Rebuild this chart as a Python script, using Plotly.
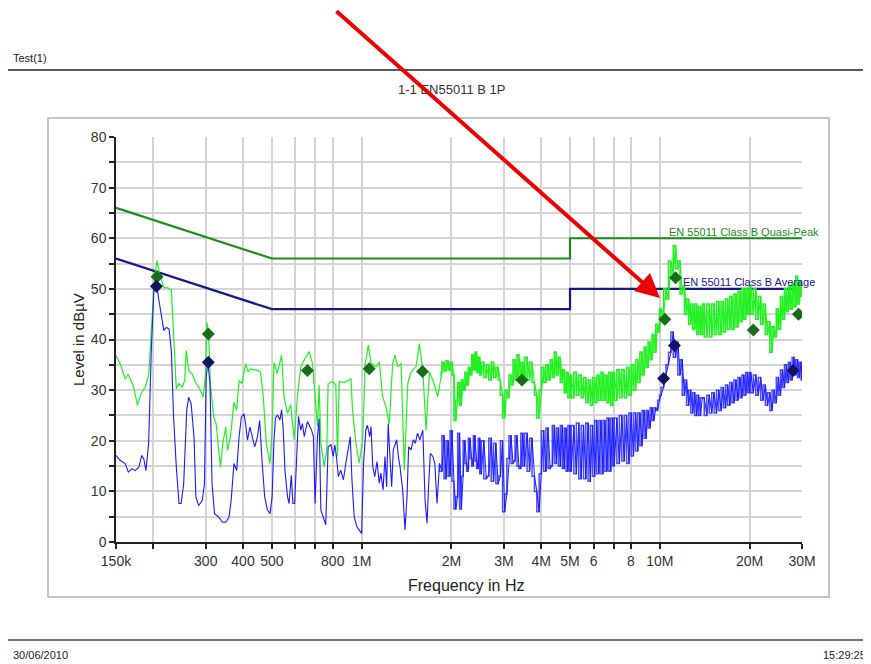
import plotly.graph_objects as go

# ---------------- data ----------------
# Quasi-peak pre-scan, structured part (frequency in kHz, level in dBuV)
QP_LOW_KHZ = [150, 155, 161, 165, 172, 177, 182, 188, 193, 198, 202, 206, 210, 217, 224, 230, 234, 239, 244, 250,
              255, 258, 263, 270, 277, 286, 294, 299, 303, 307, 311, 319, 325, 332, 336, 342, 350, 355, 363, 373,
              381, 388, 397, 408, 416, 424, 447, 458, 468, 479, 493, 501, 508, 521, 539, 549, 564, 578, 594, 609,
              625, 650, 667, 684, 698, 711, 720, 730, 749, 764, 772, 799, 819, 830, 841, 874, 909, 921, 932, 957,
              982, 1008, 1028, 1053, 1075, 1117, 1146, 1176, 1207, 1238, 1271, 1294, 1321, 1356, 1391, 1428, 1465,
              1522, 1562, 1604, 1645, 1688, 1733, 1801, 1848]
QP_LOW_DB = [36.8, 35.2, 32.2, 33.1, 30.6, 27.0, 29.3, 30.6, 32.9, 44.4, 52.3, 55.6, 53.0, 50.3, 50.2, 49.8, 41.1, 30.3, 31.3, 30.6,
             31.9, 37.8, 33.9, 33.2, 31.6, 30.3, 28.6, 32.6, 43.4, 40.5, 31.3, 24.7, 23.4, 18.1, 14.8, 19.4, 22.7, 18.1, 20.7, 27.6,
             26.0, 31.9, 31.3, 35.2, 33.6, 34.2, 33.9, 33.6, 28.6, 19.4, 15.5, 22.0, 35.4, 33.3, 36.9, 28.7, 25.4, 27.1, 20.2, 28.7,
             34.6, 36.6, 37.6, 35.3, 28.7, 22.8, 31.0, 19.5, 14.9, 18.2, 31.3, 31.7, 31.0, 16.9, 31.7, 31.5, 32.0, 32.3, 26.1, 19.5,
             15.6, 20.2, 35.3, 38.9, 35.3, 34.6, 35.6, 28.7, 26.7, 23.4, 35.3, 36.9, 34.6, 35.3, 14.2, 31.3, 33.6,
             34.6, 39.2, 34.0, 22.1, 33.6, 32.0, 28.7, 32.7]

# Average pre-scan, structured part
AV_LOW_KHZ = [150, 155, 161, 165, 170, 174, 179, 183, 186, 189, 193, 197, 201, 205, 209, 213, 217, 221, 226, 230,
              234, 239, 244, 248, 253, 259, 263, 268, 274, 278, 284, 292, 297, 301, 305, 310, 315, 321, 332, 341,
              350, 359, 365, 373, 381, 388, 395, 403, 408, 414, 422, 430, 438, 447, 455, 464, 473, 483, 493, 501,
              508, 514, 522, 532, 539, 546, 553, 564, 571, 581, 588, 596, 606, 614, 625, 633, 642, 658, 667, 679,
              689, 698, 711, 720, 730, 743, 758, 772, 789, 803, 813, 823, 836, 851, 869, 885, 902, 916, 928, 944,
              964, 982, 1000, 1015, 1033, 1046, 1064, 1075, 1090, 1107, 1126, 1146, 1160, 1180, 1198, 1213, 1228,
              1244, 1261, 1277, 1294, 1311, 1328, 1345, 1373, 1398, 1420, 1438, 1465, 1490, 1514, 1540, 1568, 1604,
              1632, 1658, 1675, 1700, 1733, 1760, 1790, 1825]
AV_LOW_DB = [17.1, 16.1, 15.5, 13.8, 14.5, 14.1, 14.8, 17.1, 16.4, 14.1, 19.4, 37.8, 49.7, 51.0, 47.7, 44.4, 41.8, 42.4, 42.1, 37.8,
             24.7, 14.8, 7.6, 7.6, 11.5, 26.0, 28.6, 27.3, 20.7, 8.9, 7.2, 8.2, 11.5, 32.6, 35.5, 31.3, 11.5, 5.6, 4.9, 3.9,
             3.9, 4.9, 8.2, 15.5, 14.1, 20.7, 24.7, 25.3, 23.4, 20.1, 22.7, 20.7, 18.8, 20.7, 24.0, 15.5, 8.9, 6.3, 5.6, 9.0,
             20.0, 24.5, 25.1, 24.1, 26.1, 22.1, 14.2, 9.0, 7.6, 13.2, 7.6, 7.6, 16.9, 24.8, 22.1, 23.4, 20.8, 23.8, 23.1, 22.1,
             20.8, 7.6, 20.8, 24.4, 6.3, 5.0, 3.4, 18.8, 19.2, 16.9, 19.2, 16.9, 12.9, 14.2, 12.3, 15.5, 18.2, 20.8, 12.3, 5.0,
             3.0, 2.4, 1.7, 15.5, 22.1, 23.1, 20.8, 22.8, 14.9, 12.9, 15.9, 11.6, 13.6, 10.3, 16.9, 10.9, 23.4,
             16.9, 10.9, 18.2, 19.5, 20.2, 16.9, 14.9, 10.3, 2.4, 9.0, 18.8, 18.2, 20.2, 19.5, 21.5, 20.2, 22.1,
             8.3, 3.7, 10.3, 17.5, 16.9, 15.5, 7.6, 15.5]

# Dense sweep part (frequency in MHz), shared by both detectors
SWEEP_MHZ = [1.86, 1.89, 1.92, 1.95, 1.98, 2.01, 2.04, 2.07, 2.10, 2.13, 2.16, 2.19, 2.22, 2.25, 2.28, 2.31, 2.34, 2.37, 2.40, 2.43, 2.46, 2.49,
             2.52, 2.57, 2.62, 2.67, 2.72, 2.77, 2.82, 2.87, 2.92, 2.97, 3.02, 3.07, 3.12, 3.17, 3.22, 3.27, 3.32, 3.37, 3.42, 3.47,
             3.52, 3.59, 3.66, 3.73, 3.80, 3.87, 3.94, 4.01, 4.08, 4.15, 4.22, 4.29, 4.36, 4.43, 4.50, 4.57, 4.64, 4.71, 4.78, 4.85, 4.92, 4.99,
             5.05, 5.15, 5.25, 5.35, 5.45, 5.55, 5.65, 5.75, 5.85, 5.95, 6.05, 6.15, 6.25, 6.35, 6.45, 6.55, 6.65, 6.75, 6.85, 6.95,
             7.04, 7.18, 7.32, 7.46, 7.60, 7.74, 7.88, 8.02, 8.16, 8.30, 8.44, 8.58, 8.72, 8.86, 9.00, 9.14, 9.28, 9.42, 9.56, 9.70, 9.84, 9.98,
             10.1, 10.3, 10.5, 10.7, 10.9, 11.1, 11.3, 11.5, 11.7, 11.9, 12.1, 12.3, 12.5, 12.7, 12.9, 13.1, 13.3, 13.5, 13.7, 13.9,
             14.1, 14.38, 14.66, 14.94, 15.22, 15.5, 15.78, 16.06, 16.34, 16.62, 16.9, 17.18, 17.46, 17.74, 18.02, 18.3, 18.58, 18.86, 19.14, 19.42, 19.7, 19.98,
             20.2, 20.6, 21.0, 21.4, 21.8, 22.2, 22.6, 23.0, 23.4, 23.8, 24.2, 24.6, 25.0, 25.4, 25.8, 26.2, 26.6, 27.0, 27.4, 27.8, 28.2, 28.6, 29.0, 29.4, 29.8, 30.0]
QP_SWEEP_DB = [33.5, 35.5, 33.8, 35.8, 34.0, 35.5, 33.0, 24.0, 28.0, 31.5, 27.0, 32.0, 30.0, 33.5, 31.0, 34.5, 33.0, 37.0, 34.0, 37.5, 33.5, 36.5,
               33.0, 35.5, 32.5, 35.0, 32.0, 35.5, 32.5, 34.5, 32.0, 29.0, 24.5, 30.0, 28.5, 33.0, 31.0, 36.0, 32.0, 37.0, 31.5, 35.5,
               31.5, 36.5, 32.0, 35.5, 31.5, 29.0, 24.5, 30.0, 34.5, 31.5, 35.0, 32.0, 36.0, 32.5, 37.5, 33.0, 36.5, 31.5, 34.0, 29.5, 33.5, 28.5,
               33.0, 28.5, 33.5, 29.0, 33.0, 28.5, 32.5, 27.5, 32.0, 27.0, 32.5, 27.5, 33.0, 28.0, 33.5, 28.0, 33.0, 27.5, 33.5, 27.0,
               33.5, 28.0, 34.0, 28.5, 34.0, 28.5, 34.5, 29.0, 35.0, 30.0, 36.0, 31.5, 37.5, 33.0, 38.5, 34.5, 39.5, 36.0, 41.0, 37.5, 43.0, 41.5,
               46.0, 45.0, 50.0, 48.0, 55.5, 53.0, 58.5, 54.0, 55.5, 49.0, 50.5, 45.0, 48.0, 43.0, 47.0, 42.0, 47.0, 41.0, 46.5, 41.0,
               47.0, 40.5, 47.0, 40.5, 47.0, 41.0, 47.5, 41.0, 47.5, 41.5, 48.0, 42.0, 48.5, 42.0, 49.0, 42.5, 49.5, 43.5, 50.0, 44.0, 50.0, 45.0,
               50.5, 45.0, 50.0, 44.0, 48.5, 43.0, 47.0, 41.0, 43.5, 37.5, 42.5, 40.5, 46.0, 42.0, 48.5, 44.0, 50.0, 45.5, 50.5, 46.0, 51.0, 46.5, 52.5, 47.0, 51.5, 48.5]
AV_SWEEP_DB = [14.0, 21.0, 12.5, 20.0, 13.0, 22.0, 12.0, 6.5, 9.0, 21.5, 6.5, 13.0, 20.0, 15.5, 14.0, 20.5, 16.5, 15.0, 21.0, 16.0, 14.5, 20.5,
               13.5, 20.0, 12.5, 13.0, 20.5, 12.0, 19.5, 11.5, 13.0, 20.0, 6.0, 9.5, 16.5, 21.0, 15.5, 16.0, 21.0, 15.0, 14.5, 21.5,
               15.0, 21.5, 14.0, 20.5, 13.0, 10.0, 6.0, 13.5, 22.0, 14.0, 22.5, 14.5, 15.0, 23.0, 15.5, 22.5, 15.0, 23.0, 14.5, 22.5, 14.0, 23.0,
               14.0, 23.0, 13.5, 23.5, 12.5, 23.0, 12.5, 23.5, 12.0, 23.0, 13.0, 24.0, 13.5, 24.0, 13.5, 24.0, 14.0, 24.5, 14.0, 24.5,
               15.0, 24.5, 15.5, 25.0, 16.0, 25.0, 15.5, 25.5, 17.0, 25.5, 18.0, 25.5, 19.0, 26.0, 20.5, 26.0, 22.5, 26.5, 24.0, 26.5, 26.0, 28.0,
               29.0, 30.5, 33.0, 35.0, 37.5, 41.5, 36.5, 39.5, 33.0, 36.0, 29.0, 32.0, 27.0, 30.0, 25.5, 29.5, 25.0, 29.0, 25.0, 28.5,
               28.5, 25.0, 29.0, 25.5, 29.5, 25.5, 30.0, 26.0, 30.5, 26.5, 31.0, 27.0, 31.5, 27.5, 32.0, 28.0, 32.5, 28.5, 33.0, 29.0, 33.5, 29.5,
               33.5, 29.5, 33.0, 29.0, 32.5, 28.0, 31.0, 27.0, 29.5, 26.0, 30.0, 27.5, 32.5, 29.0, 34.0, 30.5, 35.0, 31.5, 35.5, 32.0, 36.5, 33.0, 36.0, 32.5, 35.5, 32.0]

# Limit lines
LIMIT_FREQ_HZ = [150e3, 500e3, 5e6, 5e6, 30e6]
QP_LIMIT_DB = [66, 56, 56, 60, 60]
AV_LIMIT_DB = [56, 46, 46, 50, 50]

# Final measurement points
QP_MARK_KHZ = [206, 306, 658, 1060, 1600, 3450, 10400, 11300, 20600, 29200]
QP_MARK_DB = [52.4, 41.1, 33.9, 34.2, 33.7, 32.0, 44.0, 52.2, 41.9, 45.0]
AV_MARK_KHZ = [205, 306, 10300, 11200, 28000]
AV_MARK_DB = [50.5, 35.5, 32.3, 38.8, 33.9]

# Axis ticks
X_TICK_HZ = [150e3, 200e3, 300e3, 400e3, 500e3, 600e3, 700e3, 800e3, 1e6, 2e6, 3e6, 4e6, 5e6, 6e6, 7e6, 8e6, 10e6, 20e6, 30e6]
X_TICK_TEXT = ["150k", "", "300", "400", "500", "", "", "800", "1M", "2M", "3M", "4M", "5M", "6", "", "8", "10M", "20M", "30M"]
Y_TICK_VALS = list(range(0, 81, 5))
Y_TICK_TEXT = [str(v) if v % 10 == 0 else "" for v in Y_TICK_VALS]

assert len(SWEEP_MHZ) == len(QP_SWEEP_DB) == len(AV_SWEEP_DB)
assert len(QP_LOW_KHZ) == len(QP_LOW_DB)
assert len(AV_LOW_KHZ) == len(AV_LOW_DB)

qp_low_f = [f * 1e3 for f in QP_LOW_KHZ]
av_low_f = [f * 1e3 for f in AV_LOW_KHZ]
sweep_f = [f * 1e6 for f in SWEEP_MHZ]

FONT = "Liberation Sans, Arial, sans-serif"
QP_COL = "#22f022"
AV_COL = "#1a1aff"

fig = go.Figure()
fig.add_trace(go.Scatter(x=LIMIT_FREQ_HZ, y=QP_LIMIT_DB, mode="lines",
                         line=dict(color="#1c8a1c", width=2.2), hoverinfo="skip"))
fig.add_trace(go.Scatter(x=LIMIT_FREQ_HZ, y=AV_LIMIT_DB, mode="lines",
                         line=dict(color="#17178a", width=2.2), hoverinfo="skip"))

# QP trace: structured part + dense sweep (min/max comb plus its envelope zig-zag)
qp_sw_x = qp_low_f[-1:] + sweep_f
qp_sw_y = QP_LOW_DB[-1:] + QP_SWEEP_DB
fig.add_trace(go.Scatter(x=qp_low_f, y=QP_LOW_DB, mode="lines",
                         line=dict(color=QP_COL, width=1.2), hoverinfo="skip"))
fig.add_trace(go.Scatter(x=qp_sw_x, y=qp_sw_y, mode="lines",
                         line=dict(color=QP_COL, width=1.6, shape="vh"), hoverinfo="skip"))
fig.add_trace(go.Scatter(x=qp_sw_x, y=qp_sw_y, mode="lines",
                         line=dict(color=QP_COL, width=1.1), hoverinfo="skip"))

# AV trace
av_sw_x = av_low_f[-1:] + sweep_f
av_sw_y = AV_LOW_DB[-1:] + AV_SWEEP_DB
fig.add_trace(go.Scatter(x=av_low_f, y=AV_LOW_DB, mode="lines",
                         line=dict(color=AV_COL, width=1.1), hoverinfo="skip"))
fig.add_trace(go.Scatter(x=av_sw_x, y=av_sw_y, mode="lines",
                         line=dict(color="rgba(30,30,255,0.8)", width=1.5, shape="vh"), hoverinfo="skip"))
fig.add_trace(go.Scatter(x=av_sw_x, y=av_sw_y, mode="lines",
                         line=dict(color=AV_COL, width=1.0), hoverinfo="skip"))

fig.add_trace(go.Scatter(x=[f * 1e3 for f in QP_MARK_KHZ], y=QP_MARK_DB, mode="markers",
                         marker=dict(symbol="diamond", size=10, color="#1a6b1a"), hoverinfo="skip"))
fig.add_trace(go.Scatter(x=[f * 1e3 for f in AV_MARK_KHZ], y=AV_MARK_DB, mode="markers",
                         marker=dict(symbol="diamond", size=10, color="#12125e"), hoverinfo="skip"))

# page geometry (the page body adds an 8 px offset)
OFF = 8
W, H = 871 - OFF, 664 - OFF
L, R, T, B = 116, 802, 137, 542   # plot area in page pixels


def px(x):
    return (x - L) / (R - L)


def py(y):
    return (B - y) / (B - T)


fig.update_layout(
    width=W, height=H, autosize=False,
    margin=dict(l=L - OFF, r=W - (R - OFF), t=T - OFF, b=H - (B - OFF), pad=0),
    paper_bgcolor="white", plot_bgcolor="white",
    showlegend=False,
    font=dict(family=FONT, color="#333333"),
    xaxis=dict(type="log", range=[5.176091259, 7.477121255],
               tickvals=X_TICK_HZ, ticktext=X_TICK_TEXT,
               showgrid=True, gridcolor="#d4d4d4", gridwidth=1.5,
               showline=True, linecolor="#222222", linewidth=1.5,
               ticks="outside", ticklen=5, tickcolor="#222222", tickwidth=1.5,
               tickfont=dict(size=14, color="#333333", family=FONT),
               zeroline=False, fixedrange=True),
    yaxis=dict(range=[0, 80], tickvals=Y_TICK_VALS, ticktext=Y_TICK_TEXT,
               showgrid=True, gridcolor="#d4d4d4", gridwidth=1.5,
               showline=True, linecolor="#222222", linewidth=1.5,
               ticks="outside", ticklen=5, tickcolor="#222222", tickwidth=1.5,
               tickfont=dict(size=14, color="#333333", family=FONT),
               zeroline=False, fixedrange=True),
)

shapes = [
    dict(type="rect", xref="paper", yref="paper", x0=px(48), x1=px(829), y0=py(597), y1=py(118),
         line=dict(color="#c4c4c4", width=2), layer="below"),
    dict(type="line", xref="paper", yref="paper", x0=px(5), x1=px(875), y0=py(70), y1=py(70),
         line=dict(color="#222222", width=1.5)),
    dict(type="line", xref="paper", yref="paper", x0=px(5), x1=px(875), y0=py(640), y1=py(640),
         line=dict(color="#444444", width=1.5)),
]
fig.update_layout(shapes=shapes)

ann = [
    dict(text="Test(1)", x=px(11), y=py(58), xanchor="left", yanchor="middle", font=dict(size=11, color="#222222")),
    dict(text="30/06/2010", x=px(865), y=py(58), xanchor="left", yanchor="middle", font=dict(size=11, color="#222222")),
    dict(text="1-1 EN55011 B 1P", x=px(451), y=py(89), xanchor="center", yanchor="middle", font=dict(size=13, color="#333333")),
    dict(text="30/06/2010", x=px(11), y=py(655), xanchor="left", yanchor="middle", font=dict(size=11, color="#222222")),
    dict(text="15:29:25", x=px(821), y=py(655), xanchor="left", yanchor="middle", font=dict(size=11, color="#222222")),
    dict(text="Level in dBµV", x=px(78), y=py(340), xanchor="center", yanchor="middle", textangle=-90,
         font=dict(size=15, color="#222222")),
    dict(text="Frequency in Hz", x=px(466), y=py(585), xanchor="center", yanchor="middle",
         font=dict(size=16, color="#222222")),
    dict(text="EN 55011 Class B Quasi-Peak", x=px(667), y=py(232), xanchor="left", yanchor="middle",
         font=dict(size=11, color="#1c8a1c")),
    dict(text="EN 55011 Class B Average", x=px(681), y=py(282), xanchor="left", yanchor="middle",
         font=dict(size=11, color="#17178a")),
    dict(text="", x=px(660), y=py(298), ax=335 - 660, ay=10 - 298, showarrow=True,
         arrowcolor="#ee0000", arrowwidth=4, arrowhead=2, arrowsize=1.2, standoff=0),
]
for a in ann:
    a.setdefault("xref", "paper")
    a.setdefault("yref", "paper")
    if "showarrow" not in a:
        a["showarrow"] = False
fig.update_layout(annotations=ann)

fig.write_html("out.html")
